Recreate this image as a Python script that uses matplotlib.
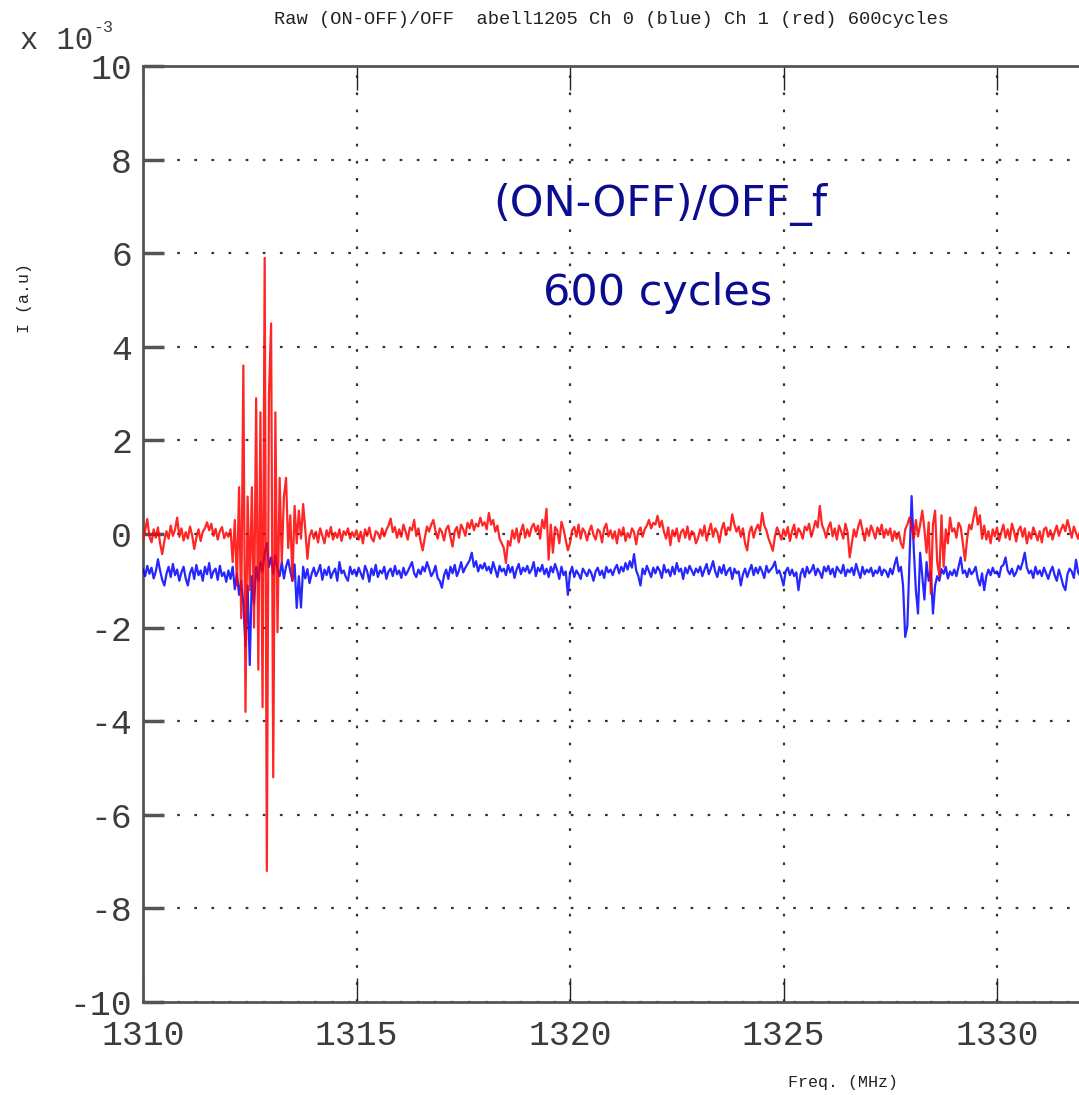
import numpy as np
import matplotlib
matplotlib.use("Agg")
import matplotlib.pyplot as plt

# Spectra in units of 1e-5, sampled every 0.05 MHz from 1310 MHz
freq_start = 1310.0
freq_step = 0.05

ch1_red = [
    -12, 8, 32, -5, -18, 10, -8, 14, -20, -43, -15, 6, -10, 18, -4, 9, 35, -6, 12, -14,
    4, -10, 16, -2, -32, -8, 10, -15, 5, 12, 25, 8, 22, -4, 11, -12, 6, 15, -9, 3,
    -6, 10, -60, 30, -110, 100, -180, 360, -380, 80, -120, 100, -200, 290, -290, 260, -370, 590, -720, 300,
    450, -520, 260, -210, 120, -60, 80, 120, -30, 40, -100, 60, -20, 50, -10, 64, 10, -53, -5, 8,
    -10, 5, -18, 12, -4, -20, 8, -6, 15, -12, 3, -8, 10, -15, 6, -2, 12, -10, 4, -6,
    8, -12, 5, -20, 10, -4, 14, -8, -16, 6, 2, -10, 12, -5, 9, 18, 33, 4, 15, -8,
    10, -6, 20, 5, -12, 14, 8, 30, -4, 12, -15, -35, -8, 16, 5, 20, 30, 6, -10, 12,
    4, -14, 10, 18, -6, -27, 6, 15, -8, 20, 10, -4, 24, 12, 30, 8, 22, 16, 35, 18,
    25, 10, 45, 20, 30, 5, 18, -10, -20, -30, -62, -15, -25, 8, -10, 12, -18, 6, 20, -8,
    10, -5, 14, 22, 5, 18, -10, 30, 12, 54, -55, 20, -40, 15, 8, -20, 26, 10, -12, -35,
    -20, 8, 15, -6, 20, -10, 12, 4, -14, 6, 18, -2, -12, 10, 5, -18, 12, 22, -5, 8,
    -10, 6, -20, 10, -4, 14, -15, 2, -8, 12, 4, -22, 6, 14, -6, 10, 18, 30, 12, 24,
    20, 39, 15, 28, 5, -10, 14, -24, 8, -5, 12, -16, 4, 10, -8, 16, -12, 6, 2, -20,
    -8, 10, -4, 18, -14, 6, 22, -6, 12, 4, -18, 10, 24, -2, 14, 8, 42, 20, 5, 16,
    -6, 12, -20, -35, 4, 16, -8, 10, 20, 6, 45, 18, 8, -10, -22, -36, -5, 14, 2, -12,
    10, -4, 15, -15, 6, 20, -8, 12, 4, -10, 16, 8, 22, -6, 10, 28, 14, 60, 20, 8,
    -8, 14, 25, -5, 12, -12, 18, 6, -10, 22, 4, -50, -20, 10, -6, 16, 30, 8, -14, 12,
    -4, 18, 6, -10, 14, 2, 20, -8, 10, -2, 12, -15, 6, -10, 4, -20, -30, 10, 20, 35,
    15, -10, 30, -5, 20, 50, 10, -40, 25, -128, 20, 50, -60, -90, 40, -70, 10, -20, 35, 5,
    12, -8, 24, 15, -20, -57, -10, 20, 10, 35, 57, 20, 40, -10, 18, -12, 6, -20, 10, -5,
    14, -15, 4, 20, -8, 10, -12, 22, 5, -16, 8, 16, -6, 12, -20, 4, -10, 14, 2, -14,
    6, -18, 10, 14, -6, 8, -12, 4, 18, -4, 10, 20, 6, 30, 12, -8, 16, 2, -10, 8,
    -4,
]

ch0_blue = [
    -75, -90, -68, -85, -72, -95, -80, -54, -78, -98, -110, -85, -70, -92, -64, -88, -76, -100, -82, -70,
    -95, -110, -84, -72, -96, -66, -88, -78, -100, -70, -86, -62, -94, -80, -74, -98, -68, -90, -82, -102,
    -78, -96, -70, -118, -85, -130, -100, -150, -240, -110, -280, -90, -150, -70, -100, -60, -80, -40, -19, -70,
    -50, -85, -45, -75, -90, -60, -95, -70, -55, -80, -100, -65, -158, -90, -157, -70, -95, -75, -105, -85,
    -72, -90, -80, -66, -98, -76, -88, -70, -94, -82, -74, -100, -60, -84, -78, -92, -100, -70, -86, -76,
    -90, -72, -84, -96, -68, -80, -102, -74, -88, -66, -92, -78, -84, -70, -96, -80, -74, -90, -68, -86,
    -78, -94, -72, -88, -80, -70, -60, -84, -92, -76, -86, -70, -80, -60, -74, -90, -82, -68, -94, -100,
    -115, -88, -76, -96, -70, -84, -66, -90, -78, -60, -82, -72, -64, -56, -40, -70, -58, -80, -66, -74,
    -62, -78, -70, -84, -60, -76, -92, -68, -80, -74, -88, -66, -82, -70, -94, -76, -64, -86, -72, -80,
    -68, -84, -76, -60, -90, -72, -80, -66, -86, -74, -92, -70, -82, -64, -78, -96, -70, -88, -80, -130,
    -84, -70, -92, -78, -86, -96, -74, -82, -90, -76, -84, -100, -80, -72, -88, -78, -94, -70, -82, -76,
    -88, -74, -66, -84, -70, -80, -62, -76, -58, -72, -43, -78, -90, -110, -74, -86, -68, -80, -92, -72,
    -84, -70, -78, -94, -66, -82, -76, -90, -70, -86, -62, -80, -74, -96, -72, -84, -68, -78, -88, -74,
    -82, -70, -90, -76, -64, -86, -74, -58, -80, -92, -70, -84, -66, -88, -78, -72, -96, -74, -84, -80,
    -110, -86, -74, -92, -78, -66, -88, -72, -84, -70, -80, -94, -68, -82, -76, -70, -59, -84, -78, -92,
    -110, -80, -72, -88, -76, -90, -82, -120, -86, -74, -92, -70, -84, -78, -66, -88, -74, -82, -94, -70,
    -80, -68, -86, -74, -92, -70, -78, -84, -66, -90, -76, -82, -72, -88, -64, -80, -94, -70, -86, -76,
    -82, -72, -90, -78, -84, -70, -88, -76, -80, -92, -74, -86, -66, -50, -80, -70, -110, -220, -197, -60,
    81, -30, -120, -170, -40, -90, -140, -60, -100, -80, -170, -110, -90, -100, -75, -85, -70, -95, -80, -88,
    -76, -90, -70, -50, -84, -78, -92, -74, -86, -80, -70, -96, -110, -84, -120, -90, -76, -88, -72, -84,
    -80, -92, -70, -66, -50, -78, -86, -74, -90, -82, -68, -76, -60, -40, -72, -84, -78, -94, -70, -86,
    -78, -90, -72, -84, -96, -80, -70, -88, -100, -76, -92, -110, -120, -86, -74, -80, -94, -55, -82, -90,
    -76,
]

x_ticks = [1310, 1315, 1320, 1325, 1330]
y_ticks = [-10, -8, -6, -4, -2, 0, 2, 4, 6, 8, 10]

title = "Raw (ON-OFF)/OFF  abell1205 Ch 0 (blue) Ch 1 (red) 600cycles"
note_lines = ["(ON-OFF)/OFF_f", "600 cycles"]

red = np.array(ch1_red) * 1e-2   # in units of 1e-3
blue = np.array(ch0_blue) * 1e-2
freq = freq_start + freq_step * np.arange(len(red))

W, H = 1079, 1095
fig = plt.figure(figsize=(W / 100, H / 100), dpi=100)
ax = fig.add_axes([143 / W, (H - 1002) / H, (W - 143) / W, (1002 - 66) / H])

ax.plot(freq, blue, color="#0000ff", lw=1.6, alpha=0.85, zorder=3)
ax.plot(freq, red, color="#ff0000", lw=1.6, alpha=0.85, zorder=4)

ax.set_xlim(1310, 1310 + (W - 143) / 42.7)
ax.set_ylim(-10, 10)

mono = "Liberation Mono"
grey = "#3c3c3c"

ax.set_xticks(x_ticks)
ax.set_yticks(y_ticks)
ax.set_xticklabels([str(v) for v in x_ticks], fontfamily=mono, fontsize=25, color=grey)
ax.set_yticklabels([str(v) for v in y_ticks], fontfamily=mono, fontsize=25, color=grey)
ax.tick_params(axis="x", direction="in", length=17, width=1.0, color="#222222",
               top=True, bottom=True, pad=12)
ax.tick_params(axis="y", direction="in", length=15, width=2.5, color="#555555",
               left=True, right=False, pad=8)

ax.grid(True, color="black", linestyle=(0, (1.2, 6.5)), linewidth=1.6, alpha=0.8)

for side in ("left", "bottom", "top"):
    ax.spines[side].set_color("#555555")
    ax.spines[side].set_linewidth(2.0)
ax.spines["right"].set_visible(False)

fig.text(611 / W, 1 - 19 / H, title, ha="center", va="center",
         fontfamily=mono, fontsize=13.5, color="#222222")
fig.text(20 / W, 1 - 41 / H, "x 10", ha="left", va="center",
         fontfamily=mono, fontsize=22, color=grey)
fig.text(93 / W, 1 - 28 / H, "-3", ha="left", va="center",
         fontfamily=mono, fontsize=12, color=grey)
fig.text(25 / W, 1 - 298 / H, "I (a.u)", ha="center", va="center", rotation=90,
         fontfamily=mono, fontsize=12, color="#222222")
fig.text(843 / W, 1 - 1083 / H, "Freq. (MHz)", ha="center", va="center",
         fontfamily=mono, fontsize=12, color="#222222")

fig.text(660 / W, 1 - 205 / H, note_lines[0], ha="center", va="center",
         fontfamily="DejaVu Sans", fontsize=31, color="#0c0c90")
fig.text(658 / W, 1 - 293 / H, note_lines[1], ha="center", va="center",
         fontfamily="DejaVu Sans", fontsize=31, color="#0c0c90")

fig.savefig("out.png", dpi=100)
